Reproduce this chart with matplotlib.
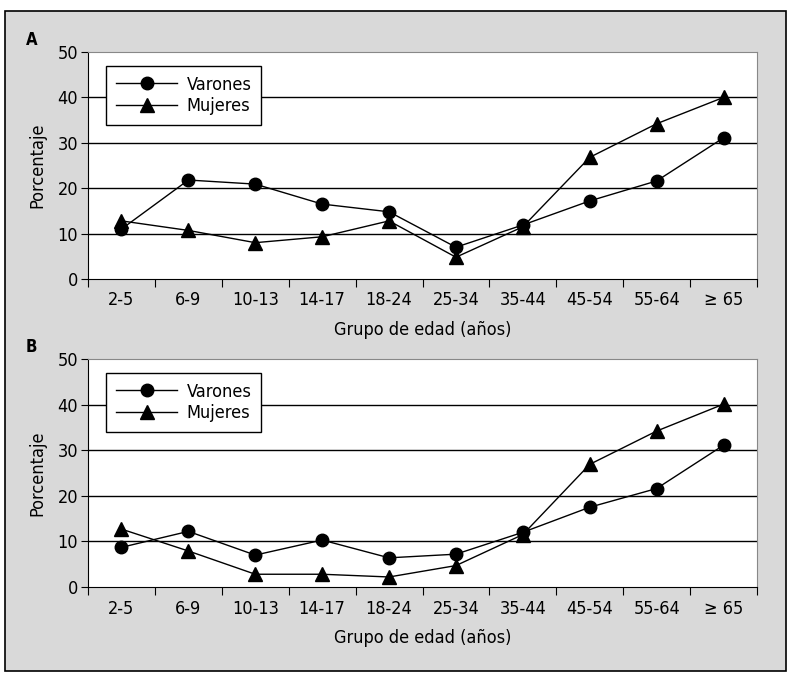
import matplotlib.pyplot as plt
import numpy as np
from matplotlib.patches import Rectangle

plt.rcParams['font.family'] = ['DejaVu Sans']
plt.rcParams['font.stretch'] = 'condensed'

grupos = ["2-5", "6-9", "10-13", "14-17", "18-24", "25-34", "35-44", "45-54", "55-64", "≥ 65"]

# panel A
varones_a = [11.0, 21.8, 20.9, 16.5, 14.8, 7.0, 11.9, 17.2, 21.6, 31.1]
mujeres_a = [12.8, 10.7, 8.0, 9.3, 12.8, 4.8, 11.5, 26.8, 34.2, 40.0]
# panel B
varones_b = [8.7, 12.2, 7.0, 10.3, 6.4, 7.2, 12.0, 17.5, 21.6, 31.1]
mujeres_b = [12.7, 7.9, 2.8, 2.8, 2.2, 4.7, 11.5, 26.9, 34.2, 40.1]

fig = plt.figure(figsize=(7.95, 6.78), dpi=100)

# marco gris exterior
fig.patches.append(Rectangle((5/795, 1-671/678), 781/795, 660/678, transform=fig.transFigure,
                             facecolor='#d9d9d9', edgecolor='black', linewidth=1.2, zorder=-5))

def panel(rect, varones, mujeres, letra):
    ax = fig.add_axes(rect)
    x = np.arange(len(grupos)) + 0.5
    ax.plot(x, varones, color='black', lw=1, marker='o', ms=9, label='Varones', zorder=3)
    ax.plot(x, mujeres, color='black', lw=1, marker='^', ms=10, label='Mujeres', zorder=3)
    for v in [10, 20, 30, 40]:
        ax.axhline(v, color='black', lw=1, zorder=1)
    ax.set_xlim(0, 10)
    ax.set_ylim(0, 50)
    ax.set_yticks([0, 10, 20, 30, 40, 50])
    ax.set_xticks(np.arange(0, 11))
    ax.set_xticklabels([])
    ax.set_xticks(x, minor=True)
    ax.set_xticklabels(grupos, minor=True)
    ax.tick_params(axis='x', which='minor', length=0, pad=9, labelsize=13)
    ax.tick_params(axis='x', which='major', length=6, direction='out')
    ax.tick_params(axis='y', length=5, direction='out', labelsize=13, pad=2)
    for s in ['top', 'right']:
        ax.spines[s].set_color('#888888')
    ax.set_ylabel('Porcentaje', fontsize=13, labelpad=8)
    ax.set_xlabel('Grupo de edad (años)', fontsize=13, labelpad=8)
    leg = ax.legend(loc='upper left', bbox_to_anchor=(0.027, 0.94), fontsize=13, handlelength=3.4,
                    fancybox=False, framealpha=1, edgecolor='black', borderpad=0.55, labelspacing=0.2,
                    borderaxespad=0, handletextpad=0.5)
    leg.get_frame().set_linewidth(1)
    ax.text(-0.084, 1.053, letra, transform=ax.transAxes, fontsize=12, fontweight='bold', ha='center', va='center')
    return ax

panel([0.1107, 0.5885, 0.8415, 0.3348], varones_a, mujeres_a, 'A')
panel([0.1107, 0.1342, 0.8415, 0.3363], varones_b, mujeres_b, 'B')

fig.savefig('out.png', dpi=100)
